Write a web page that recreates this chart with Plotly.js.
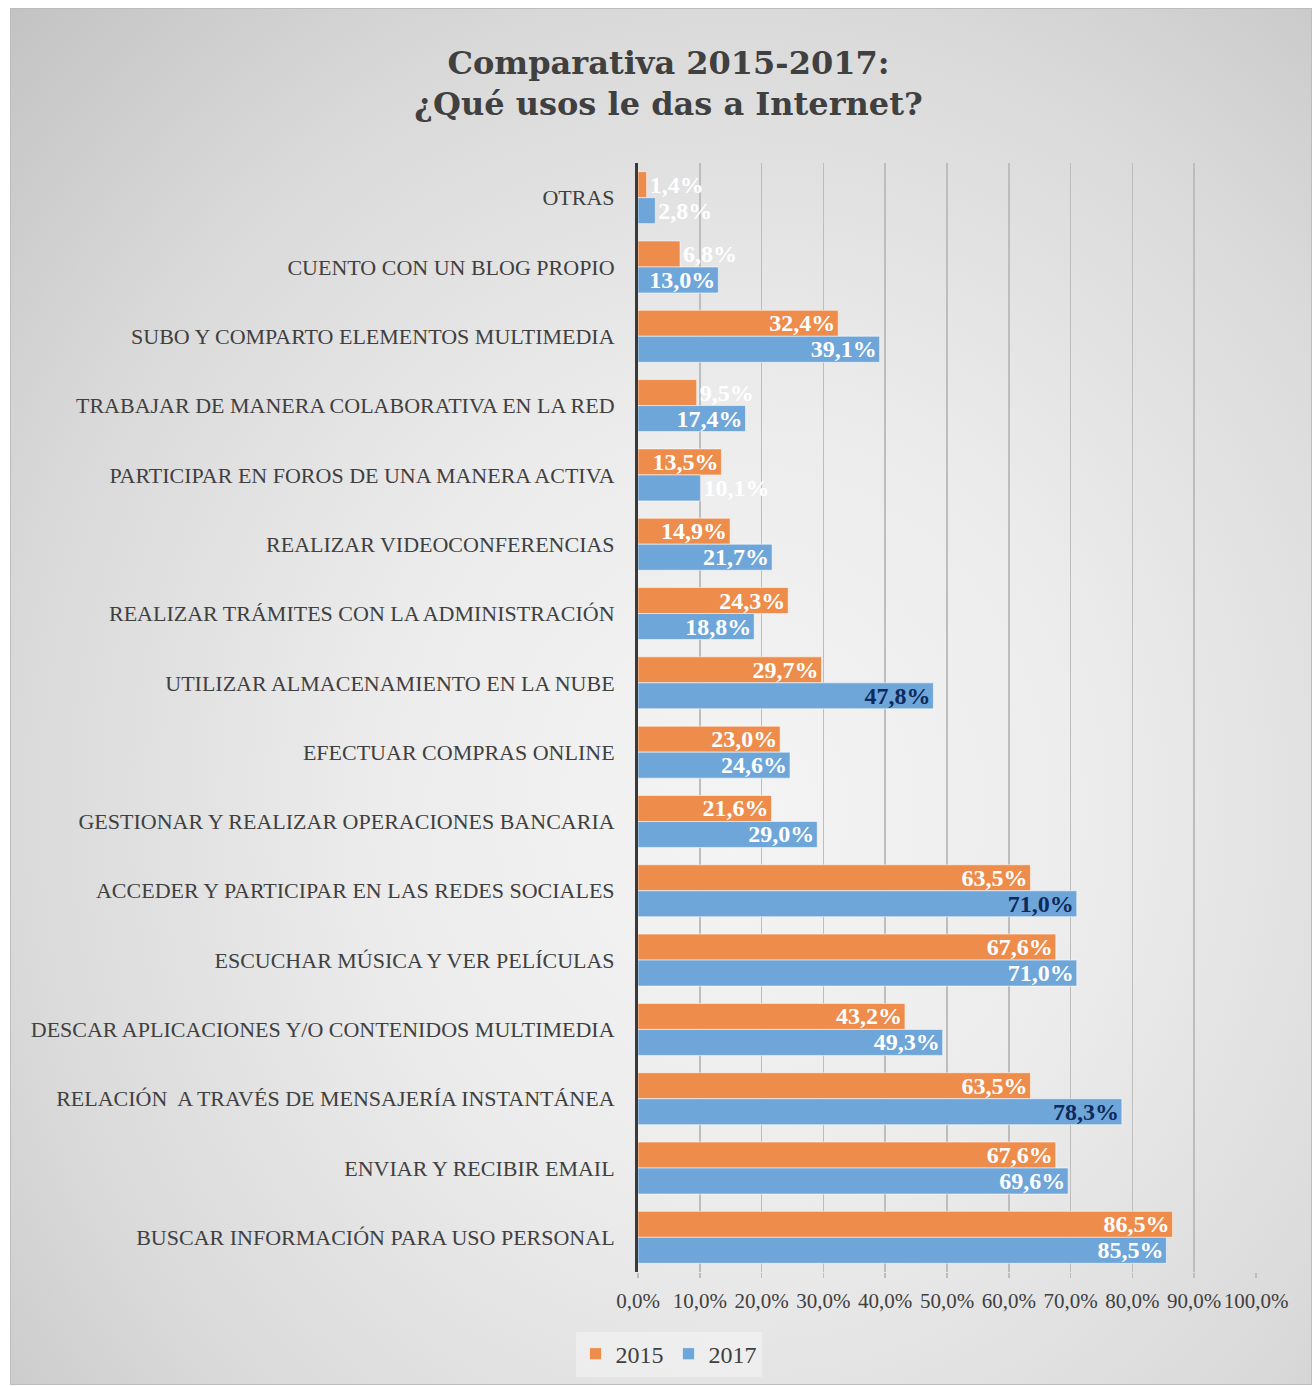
<!DOCTYPE html>
<html>
<head>
<meta charset="utf-8">
<script src="https://cdn.plot.ly/plotly-3.0.1.min.js"></script>
<style>
  html, body { margin: 0; padding: 0; background: #ffffff; }
  #frame {
    position: absolute; left: 10px; top: 8px; width: 1302px; height: 1377px;
    box-sizing: border-box; border: 1px solid #bdbdbd;
    background: radial-gradient(ellipse farthest-corner at 56% 58%, #f4f4f4 0%, #ececec 35%, #dadada 70%, #c3c3c3 100%);
  }
  #chart { width: 1302px; height: 1377px; }
</style>
</head>
<body>
<div id="frame"><div id="chart"></div></div>
<script>
const categories = [
  "OTRAS",
  "CUENTO CON UN BLOG PROPIO",
  "SUBO Y COMPARTO ELEMENTOS MULTIMEDIA",
  "TRABAJAR DE MANERA COLABORATIVA EN LA RED",
  "PARTICIPAR EN FOROS DE UNA MANERA ACTIVA",
  "REALIZAR VIDEOCONFERENCIAS",
  "REALIZAR TRÁMITES CON LA ADMINISTRACIÓN",
  "UTILIZAR ALMACENAMIENTO EN LA NUBE",
  "EFECTUAR COMPRAS ONLINE",
  "GESTIONAR Y REALIZAR OPERACIONES BANCARIA",
  "ACCEDER Y PARTICIPAR EN LAS REDES SOCIALES",
  "ESCUCHAR MÚSICA Y VER PELÍCULAS",
  "DESCAR APLICACIONES Y/O CONTENIDOS MULTIMEDIA",
  "RELACIÓN  A TRAVÉS DE MENSAJERÍA INSTANTÁNEA",
  "ENVIAR Y RECIBIR EMAIL",
  "BUSCAR INFORMACIÓN PARA USO PERSONAL"
];
const values2015 = [1.4, 6.8, 32.4, 9.5, 13.5, 14.9, 24.3, 29.7, 23.0, 21.6, 63.5, 67.6, 43.2, 63.5, 67.6, 86.5];
const values2017 = [2.8, 13.0, 39.1, 17.4, 10.1, 21.7, 18.8, 47.8, 24.6, 29.0, 71.0, 71.0, 49.3, 78.3, 69.6, 85.5];
const seriesNames = ["2015", "2017"];
const xTickValues = [0, 10, 20, 30, 40, 50, 60, 70, 80, 90, 100];
const xTickLabels = ["0,0%", "10,0%", "20,0%", "30,0%", "40,0%", "50,0%", "60,0%", "70,0%", "80,0%", "90,0%", "100,0%"];

const labelColors2015 = values2015.map(() => "#ffffff");
const labelColors2017 = values2017.map((v, i) => (i === 7 || i === 10 || i === 13) ? "#0e2a5c" : "#ffffff");
const pos = v => v < 11 ? "outside" : "inside";

const labelFont = (colors) => ({ family: "Liberation Serif, serif", size: 24, weight: "bold", color: colors });

const traces = [
  {
    type: "bar", orientation: "h", name: seriesNames[0],
    y: categories, x: values2015,
    marker: { color: "#ee8c4c", line: { color: "rgba(255,255,255,0.55)", width: 1 } },
    texttemplate: "%{x:.1f}%", textposition: values2015.map(pos),
    insidetextanchor: "end", constraintext: "none", cliponaxis: false,
    textfont: labelFont(labelColors2015),
    hoverinfo: "skip"
  },
  {
    type: "bar", orientation: "h", name: seriesNames[1],
    y: categories, x: values2017,
    marker: { color: "#6ea6da", line: { color: "rgba(255,255,255,0.55)", width: 1 } },
    texttemplate: "%{x:.1f}%", textposition: values2017.map(pos),
    insidetextanchor: "end", constraintext: "none", cliponaxis: false,
    textfont: labelFont(labelColors2017),
    hoverinfo: "skip"
  }
];

const layout = {
  width: 1302, height: 1377,
  paper_bgcolor: "rgba(0,0,0,0)", plot_bgcolor: "rgba(0,0,0,0)",
  separators: ",.",
  margin: { l: 627, r: 57, t: 154, b: 114 },
  title: {
    text: "Comparativa 2015-2017:<br>¿Qué usos le das a Internet?",
    font: { family: "DejaVu Serif, serif", size: 32, weight: "bold", color: "#404040" },
    x: 0.505, xanchor: "center", xref: "container",
    y: 0.953, yanchor: "top", yref: "container"
  },
  barmode: "group", bargap: 0.25, bargroupgap: 0,
  xaxis: {
    range: [0, 100], tickmode: "array", tickvals: xTickValues, ticktext: xTickLabels,
    tickangle: 0, showgrid: true, gridcolor: "#bdbdbd", gridwidth: 1.5,
    zeroline: false, showline: false,
    ticks: "outside", ticklen: 5, tickcolor: "#bdbdbd", tickwidth: 1.5,
    ticklabelstandoff: 5,
    tickfont: { family: "Liberation Serif, serif", size: 21, color: "#404040" },
    fixedrange: true, automargin: false
  },
  yaxis: {
    type: "category", categoryorder: "array", categoryarray: categories,
    autorange: "reversed", showgrid: false, zeroline: false,
    showline: true, linecolor: "#3a3a3a", linewidth: 3,
    ticks: "", ticklabelstandoff: 16,
    tickfont: { family: "Liberation Serif, serif", size: 22, color: "#404040" },
    fixedrange: true, automargin: false
  },
  showlegend: true,
  legend: {
    orientation: "h", xref: "container", yref: "container",
    x: 0.505, xanchor: "center", y: 0.0395, yanchor: "top",
    bgcolor: "rgba(255,255,255,0.35)",
    font: { family: "Liberation Serif, serif", size: 24, color: "#404040" },
    itemclick: false, itemdoubleclick: false
  }
};

Plotly.newPlot("chart", traces, layout, { displayModeBar: false, staticPlot: true });
</script>
</body>
</html>
